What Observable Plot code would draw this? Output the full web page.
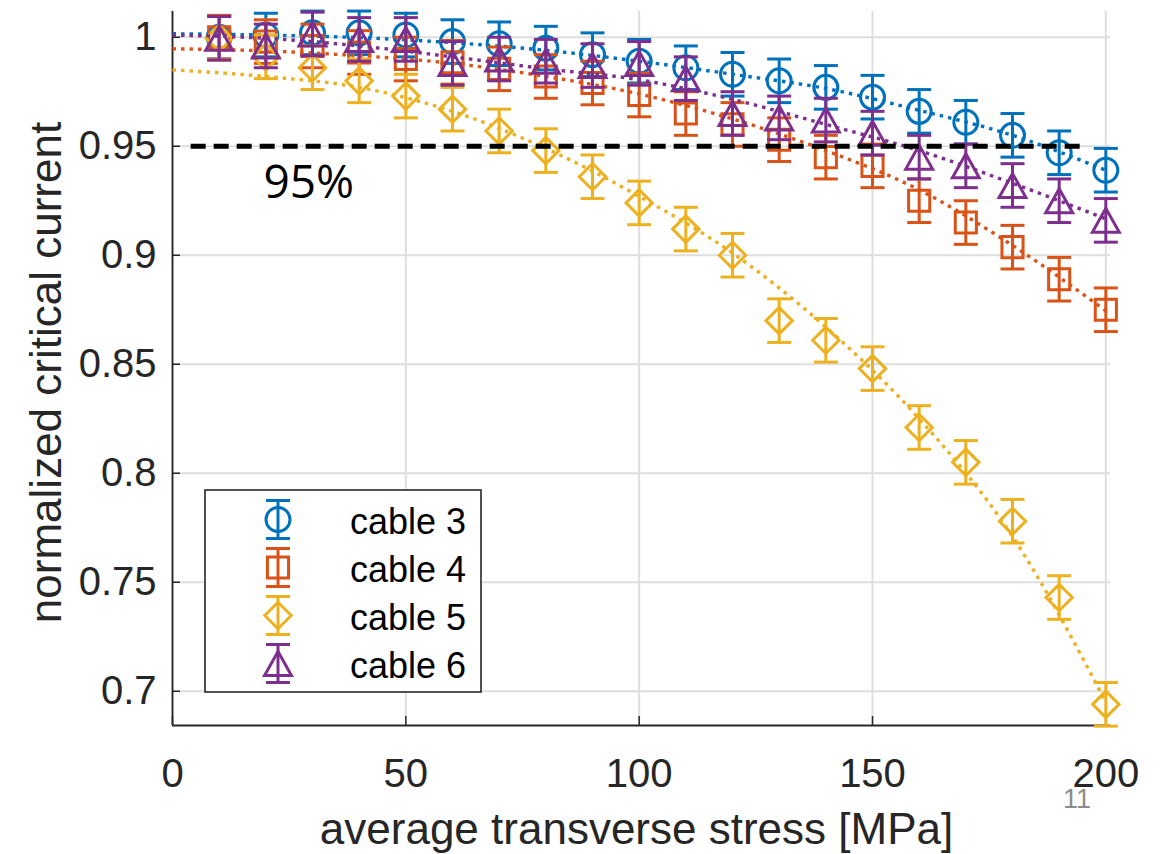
<!DOCTYPE html>
<html>
<head>
<meta charset="utf-8">
<script src="https://cdn.jsdelivr.net/npm/d3@7"></script>
<script src="https://cdn.jsdelivr.net/npm/@observablehq/plot@0.6"></script>
<style>
html,body{margin:0;padding:0;background:#fff;}
#chart{position:relative;width:1161px;height:854px;overflow:hidden;}
</style>
</head>
<body>
<div id="chart"></div>
<script>
// ---------- data ----------
const stress = [10,20,30,40,50,60,70,80,90,100,110,120,130,140,150,160,170,180,190,200];
const seriesNames = ["cable 3","cable 4","cable 5","cable 6"];
const cable3 = [1.000,1.001,1.002,1.002,1.001,0.998,0.997,0.995,0.992,0.989,0.986,0.983,0.980,0.977,0.9725,0.966,0.961,0.955,0.947,0.939];
const cable4 = [1.000,0.998,0.996,0.993,0.990,0.9885,0.9855,0.982,0.979,0.9735,0.965,0.960,0.953,0.945,0.941,0.925,0.915,0.9037,0.889,0.875];
const cable5 = [0.9995,0.991,0.986,0.980,0.973,0.967,0.957,0.948,0.936,0.924,0.912,0.900,0.870,0.861,0.848,0.821,0.805,0.778,0.743,0.694];
const cable6 = [0.9995,0.996,1.0015,0.999,0.999,0.988,0.990,0.989,0.987,0.988,0.981,0.965,0.963,0.962,0.956,0.945,0.941,0.932,0.925,0.916];
const err3 = [0.01,0.01,0.01,0.01,0.01,0.01,0.01,0.01,0.01,0.01,0.01,0.01,0.01,0.01,0.01,0.01,0.01,0.01,0.01,0.01];
const err4 = [0.01,0.01,0.01,0.01,0.01,0.01,0.01,0.01,0.01,0.01,0.01,0.01,0.01,0.01,0.01,0.01,0.01,0.01,0.01,0.01];
const err5 = [0.01,0.01,0.01,0.01,0.01,0.01,0.01,0.01,0.01,0.01,0.01,0.01,0.01,0.01,0.01,0.01,0.01,0.01,0.01,0.01];
const err6 = [0.01,0.01,0.01,0.01,0.01,0.01,0.01,0.01,0.01,0.01,0.01,0.01,0.01,0.01,0.01,0.01,0.01,0.01,0.01,0.01];

// dotted fit curves
const fitStress = [0,20,40,60,80,100,120,140,160,180,200];
const fit3 = [1.0016,1.0010,0.9998,0.9975,0.9940,0.9890,0.9830,0.9765,0.9665,0.9550,0.9390];
const fit4 = [0.9947,0.9937,0.9915,0.9880,0.9820,0.9740,0.9625,0.9480,0.9300,0.9045,0.8745];
const fit5 = [0.9850,0.9820,0.9770,0.9660,0.9490,0.9270,0.9010,0.8670,0.8250,0.7710,0.6950];
const fit6 = [1.0010,0.9995,0.9960,0.9910,0.9855,0.9805,0.9715,0.9600,0.9480,0.9330,0.9167];

const threshold = 0.95;
const thresholdSpan = [4, 195];
const thresholdLabel = "95%";

const xTicks = [0,50,100,150,200];
const yTicks = [0.7,0.75,0.8,0.85,0.9,0.95,1];
const xDomain = [0, 201];
const yDomain = [0.6843, 1.0118];
const xLabel = "average transverse stress [MPa]";
const yLabel = "normalized critical current";
const pageNumber = "11";

// ---------- styling ----------
const colors = ["#0072BD","#D95319","#EDB120","#7E2F8E"];
const FONT = "'Liberation Sans', Arial, Helvetica, sans-serif";
const AXIS_COLOR = "#262626";
const GRID_COLOR = "#dedede";

const symCircle = {draw(ctx, size){const r = Math.sqrt(size/Math.PI); ctx.moveTo(r,0); ctx.arc(0,0,r,0,2*Math.PI); ctx.closePath();}};
const symSquare = {draw(ctx, size){const r = Math.sqrt(size/Math.PI)*0.88; ctx.rect(-r,-r,2*r,2*r);}};
const symDiamond = {draw(ctx, size){const r = Math.sqrt(size/Math.PI)*1.1; ctx.moveTo(0,-r); ctx.lineTo(r,0); ctx.lineTo(0,r); ctx.lineTo(-r,0); ctx.closePath();}};
const symTriangle = {draw(ctx, size){const r = Math.sqrt(size/Math.PI); const h = r*1.0, w = r*1.12; ctx.moveTo(0,-h); ctx.lineTo(w,h); ctx.lineTo(-w,h); ctx.closePath();}};
const symCap = {draw(ctx, size){ctx.moveTo(-12,0); ctx.lineTo(12,0);}};
const symbols = [symCircle, symSquare, symDiamond, symTriangle];

const values = [cable3, cable4, cable5, cable6];
const errors = [err3, err4, err5, err6];
const fits = [fit3, fit4, fit5, fit6];

const MR = 12;      // marker "radius"
const LW = 3;       // line width

const dataMarks = [];
values.forEach((vals, i) => {
  const rows = stress.map((x, j) => ({x, v: vals[j], e: errors[i][j]}));
  const fitRows = fitStress.map((x, j) => ({x, v: fits[i][j]}));
  const c = colors[i];
  dataMarks.push(
    Plot.ruleX(rows, {x: "x", y1: d => d.v - d.e, y2: d => d.v + d.e, stroke: c, strokeWidth: LW}),
    Plot.dot(rows, {x: "x", y: d => d.v + d.e, symbol: symCap, r: MR, stroke: c, strokeWidth: LW, fill: "none"}),
    Plot.dot(rows, {x: "x", y: d => d.v - d.e, symbol: symCap, r: MR, stroke: c, strokeWidth: LW, fill: "none"}),
    Plot.dot(rows, {x: "x", y: "v", symbol: symbols[i], r: MR, stroke: c, strokeWidth: LW, fill: "none"}),
    Plot.line(fitRows, {x: "x", y: "v", curve: "monotone-x", stroke: c, strokeWidth: 3.4, strokeDasharray: "3.5,5", strokeLinecap: "butt"})
  );
});

const chart = Plot.plot({
  width: 1161,
  height: 854,
  marginLeft: 172,
  marginRight: 51,
  marginTop: 11,
  marginBottom: 129,
  style: {fontFamily: FONT, fontSize: "40px", color: AXIS_COLOR, background: "#fff", overflow: "visible"},
  x: {domain: xDomain},
  y: {domain: yDomain},
  marks: [
    Plot.gridX(xTicks, {stroke: GRID_COLOR, strokeOpacity: 1, strokeWidth: 2}),
    Plot.gridY(yTicks, {stroke: GRID_COLOR, strokeOpacity: 1, strokeWidth: 2}),
    Plot.axisX(xTicks, {tickSize: 0, tickPadding: 33, tickFormat: d => String(d), fontSize: 40, fill: AXIS_COLOR, label: null}),
    Plot.axisX(xTicks, {text: null, tickSize: 9, dy: -9, stroke: AXIS_COLOR, strokeWidth: 1.5, label: null}),
    Plot.axisY(yTicks, {tickSize: 0, tickPadding: 16, tickFormat: d => String(d), fontSize: 40, fill: AXIS_COLOR, label: null}),
    Plot.axisY(yTicks, {text: null, tickSize: 8, dx: 8, stroke: AXIS_COLOR, strokeWidth: 1.5, label: null}),
    Plot.ruleX([xDomain[0]], {stroke: AXIS_COLOR, strokeWidth: 1.8}),
    Plot.ruleY([yDomain[0]], {stroke: AXIS_COLOR, strokeWidth: 1.8}),
    ...dataMarks,
    Plot.ruleY([threshold], {x1: thresholdSpan[0], x2: thresholdSpan[1], stroke: "#000", strokeWidth: 5, strokeDasharray: "15,8"}),
    Plot.text([thresholdLabel], {frameAnchor: "top-left", dx: 91, dy: 186, textAnchor: "start", lineAnchor: "bottom", fontSize: 46, fontFamily: "'Open Sans', 'Noto Sans', sans-serif", fill: "#000"}),
    Plot.text([xLabel], {frameAnchor: "bottom", dx: -5, dy: 118, textAnchor: "middle", lineAnchor: "bottom", fontSize: 44, fill: AXIS_COLOR}),
    Plot.text([yLabel], {frameAnchor: "left", rotate: -90, dx: -112, dy: 4, textAnchor: "middle", lineAnchor: "bottom", fontSize: 44, fill: AXIS_COLOR})
  ]
});

// ---------- legend (inside the axes, lower-left) ----------
const svg = d3.select(chart);
const lg = svg.append("g").attr("class", "legend");
const box = {x: 205, y: 490, w: 276, h: 202};
lg.append("rect").attr("x", box.x).attr("y", box.y).attr("width", box.w).attr("height", box.h)
  .attr("fill", "#fff").attr("stroke", AXIS_COLOR).attr("stroke-width", 1.6);
seriesNames.forEach((name, i) => {
  const cy = 519.5 + i * 48;
  const cx = 278;
  const g = lg.append("g").attr("stroke", colors[i]).attr("stroke-width", LW).attr("fill", "none");
  g.append("line").attr("x1", cx).attr("x2", cx).attr("y1", cy - 19).attr("y2", cy + 19);
  g.append("line").attr("x1", cx - 12).attr("x2", cx + 12).attr("y1", cy - 19).attr("y2", cy - 19);
  g.append("line").attr("x1", cx - 12).attr("x2", cx + 12).attr("y1", cy + 19).attr("y2", cy + 19);
  g.append("path").attr("transform", `translate(${cx},${cy})`)
    .attr("d", d3.symbol().type(symbols[i]).size(Math.PI * MR * MR)());
  lg.append("text").attr("x", 350).attr("y", cy + 14).attr("text-anchor", "start")
    .attr("font-family", FONT).attr("font-size", 36).attr("fill", "#000").text(name);
});

// slide page number
svg.append("text").attr("x", 1063).attr("y", 808).attr("text-anchor", "start").attr("font-family", FONT)
  .attr("font-size", 27).attr("fill", "#8c8c8c").text(pageNumber);

document.getElementById("chart").appendChild(chart);
</script>
</body>
</html>
